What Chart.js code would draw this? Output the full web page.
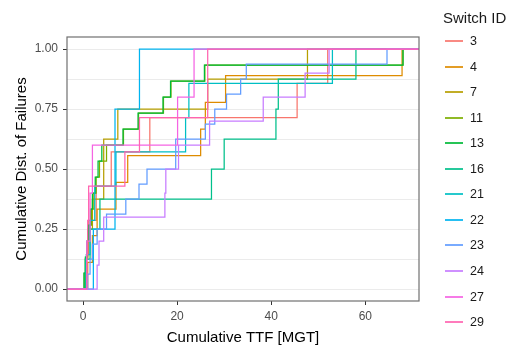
<!DOCTYPE html>
<html>
<head>
<meta charset="utf-8">
<script src="https://cdn.jsdelivr.net/npm/chart.js@4.4.0/dist/chart.umd.min.js"></script>
<style>
  html, body { margin: 0; padding: 0; background: #fff; }
  #wrap { position: relative; width: 511px; height: 349px; }
  #chart { position: absolute; left: 0; top: 0; }
  #legend { position: absolute; left: 443px; top: 0; font-family: 'Liberation Sans', Arial, sans-serif; color: #1a1a1a; }
  .lg-title { position: absolute; left: 0; top: 9px; font-size: 15px; line-height: 18px; white-space: nowrap; }
  .lg-row { position: absolute; left: 2px; height: 20px; display: flex; align-items: center; white-space: nowrap; }
  .lg-key { width: 18px; height: 2px; margin-right: 7px; opacity: 0.85; }
  .lg-lab { font-size: 12.5px; line-height: 20px; }
</style>
</head>
<body>
<div id="wrap">
  <canvas id="chart" width="511" height="349"></canvas>
  <div id="legend"></div>
</div>
<script>
// ── Data (times to failure, MGT, per switch) ────────────────────────────────
const SWITCH_IDS = ['3', '4', '7', '11', '13', '16', '21', '22', '23', '24', '27', '29'];
const COLORS = ['#F8766D', '#DE8C00', '#B79F00', '#7CAE00', '#00BA38', '#00C08B',
                '#00BFC4', '#00B4F0', '#619CFF', '#C77CFF', '#F564E3', '#FF64B0'];

const TTF_3  = [0.8, 1.2, 2.8, 6, 14.2, 45.5, 52];
const TTF_4  = [1, 2, 3, 7, 9.5, 25, 26, 30.3, 67.8];
const TTF_7  = [0.5, 1, 2, 4.4, 4.4, 7.4, 26.5, 47.7];
const TTF_11 = [0.3, 0.6, 1, 1.4, 1.8, 2.3, 2.8, 3.5, 5, 8.6, 11.8, 17.1, 18.7, 25.9, 68];
const TTF_13 = [0.2, 0.5, 0.8, 1.2, 1.6, 2, 2.6, 3.2, 4, 8.5, 11.7, 17, 18.6, 25.8, 68];
const TTF_16 = [0.5, 1.5, 3.6, 27.3, 30, 41, 41.5, 58];
const TTF_21 = [0.7, 1.5, 2.5, 7, 21.8, 22.5, 53];
const TTF_22 = [2.2, 6.8, 6.8, 12];
const TTF_23 = [1, 1.5, 2, 3, 5, 9.1, 11.9, 13.6, 19.7, 19.7, 26, 28, 30.5, 33.5, 34.7, 64.6];
const TTF_24 = [3, 3.4, 4.4, 17.4, 17.6, 20.3, 26.9, 38.3, 47.2, 52.3];
const TTF_27 = [0.8, 1.5, 2, 20.1, 23.6];
const TTF_29 = [0.8, 1, 1.2, 8.9, 12, 26.5, 26.5];

const SERIES = [TTF_3, TTF_4, TTF_7, TTF_11, TTF_13, TTF_16, TTF_21, TTF_22, TTF_23, TTF_24, TTF_27, TTF_29];

const X_TICKS = [0, 20, 40, 60];
const Y_TICKS = [0, 0.25, 0.5, 0.75, 1];
const X_MIN = -3.4, X_MAX = 71.4;
const Y_MIN = -0.05, Y_MAX = 1.05;

// ── ECDF with -Inf / +Inf padding like stat_ecdf ─────────────────────────────
function ecdfPoints(xs) {
  const n = xs.length;
  const pts = [{ x: X_MIN, y: 0 }];
  xs.forEach((x, i) => pts.push({ x: x, y: (i + 1) / n }));
  pts.push({ x: X_MAX, y: 1 });
  return pts;
}

// major + minor grid values (minor halfway between majors)
const Y_GRID = [];
Y_TICKS.forEach((v, i) => {
  Y_GRID.push(v);
  if (i < Y_TICKS.length - 1) Y_GRID.push((v + Y_TICKS[i + 1]) / 2);
});

const FONT = "'Liberation Sans', Arial, sans-serif";

const panelBorder = {
  id: 'panelBorder',
  afterDatasetsDraw(chart) {
    const { ctx, chartArea: a } = chart;
    ctx.save();
    ctx.strokeStyle = '#707070';
    ctx.lineWidth = 1.2;
    ctx.strokeRect(a.left, a.top, a.right - a.left, a.bottom - a.top);
    ctx.restore();
  }
};

const datasets = SERIES.map((xs, i) => ({
  label: SWITCH_IDS[i],
  data: ecdfPoints(xs),
  borderColor: COLORS[i],
  backgroundColor: COLORS[i],
  borderWidth: 1.25,
  pointRadius: 0,
  showLine: true,
  stepped: true,
  fill: false,
  order: SERIES.length - i,
}));

new Chart(document.getElementById('chart').getContext('2d'), {
  type: 'scatter',
  data: { datasets },
  plugins: [panelBorder],
  options: {
    responsive: false,
    animation: false,
    devicePixelRatio: 1,
    layout: { padding: { top: 37, right: 92, left: 0, bottom: 0 } },
    plugins: { legend: { display: false }, tooltip: { enabled: false } },
    scales: {
      x: {
        type: 'linear',
        min: X_MIN,
        max: X_MAX,
        afterBuildTicks: s => { s.ticks = X_TICKS.map(v => ({ value: v })); },
        afterFit: s => { s.height = 48; },
        grid: { drawOnChartArea: false, drawTicks: true, tickLength: 4, tickColor: '#333333' },
        border: { display: false },
        ticks: { color: '#4d4d4d', font: { family: FONT, size: 12 }, padding: 4, maxRotation: 0 },
        title: { display: true, text: 'Cumulative TTF [MGT]', color: '#000', font: { family: FONT, size: 15 }, padding: { top: 0, bottom: 2.5 } },
      },
      y: {
        type: 'linear',
        min: Y_MIN,
        max: Y_MAX,
        afterBuildTicks: s => { s.ticks = Y_GRID.map(v => ({ value: v })); },
        afterFit: s => { s.width = 67; },
        grid: {
          color: '#EBEBEB',
          lineWidth: 1,
          tickLength: 4,
          tickColor: c => Y_TICKS.includes(c.tick.value) ? '#333333' : 'rgba(0,0,0,0)',
        },
        border: { display: false },
        ticks: {
          color: '#4d4d4d',
          font: { family: FONT, size: 12 },
          padding: 5,
          callback: v => Y_TICKS.includes(v) ? v.toFixed(2) : '',
        },
        title: { display: true, text: 'Cumulative Dist. of Failures', color: '#000', font: { family: FONT, size: 15 }, padding: { top: 13, bottom: 0 } },
      },
    },
  },
});

// ── Legend (ggplot-style, right side) ────────────────────────────────────────
const legend = document.getElementById('legend');
legend.innerHTML = '<div class="lg-title">Switch ID</div>' + SWITCH_IDS.map((id, i) => `
  <div class="lg-row" style="top:${Math.round(31 + i * 25.55)}px">
    <div class="lg-key" style="background:${COLORS[i]}"></div>
    <span class="lg-lab">${id}</span>
  </div>`).join('');
</script>
</body>
</html>
